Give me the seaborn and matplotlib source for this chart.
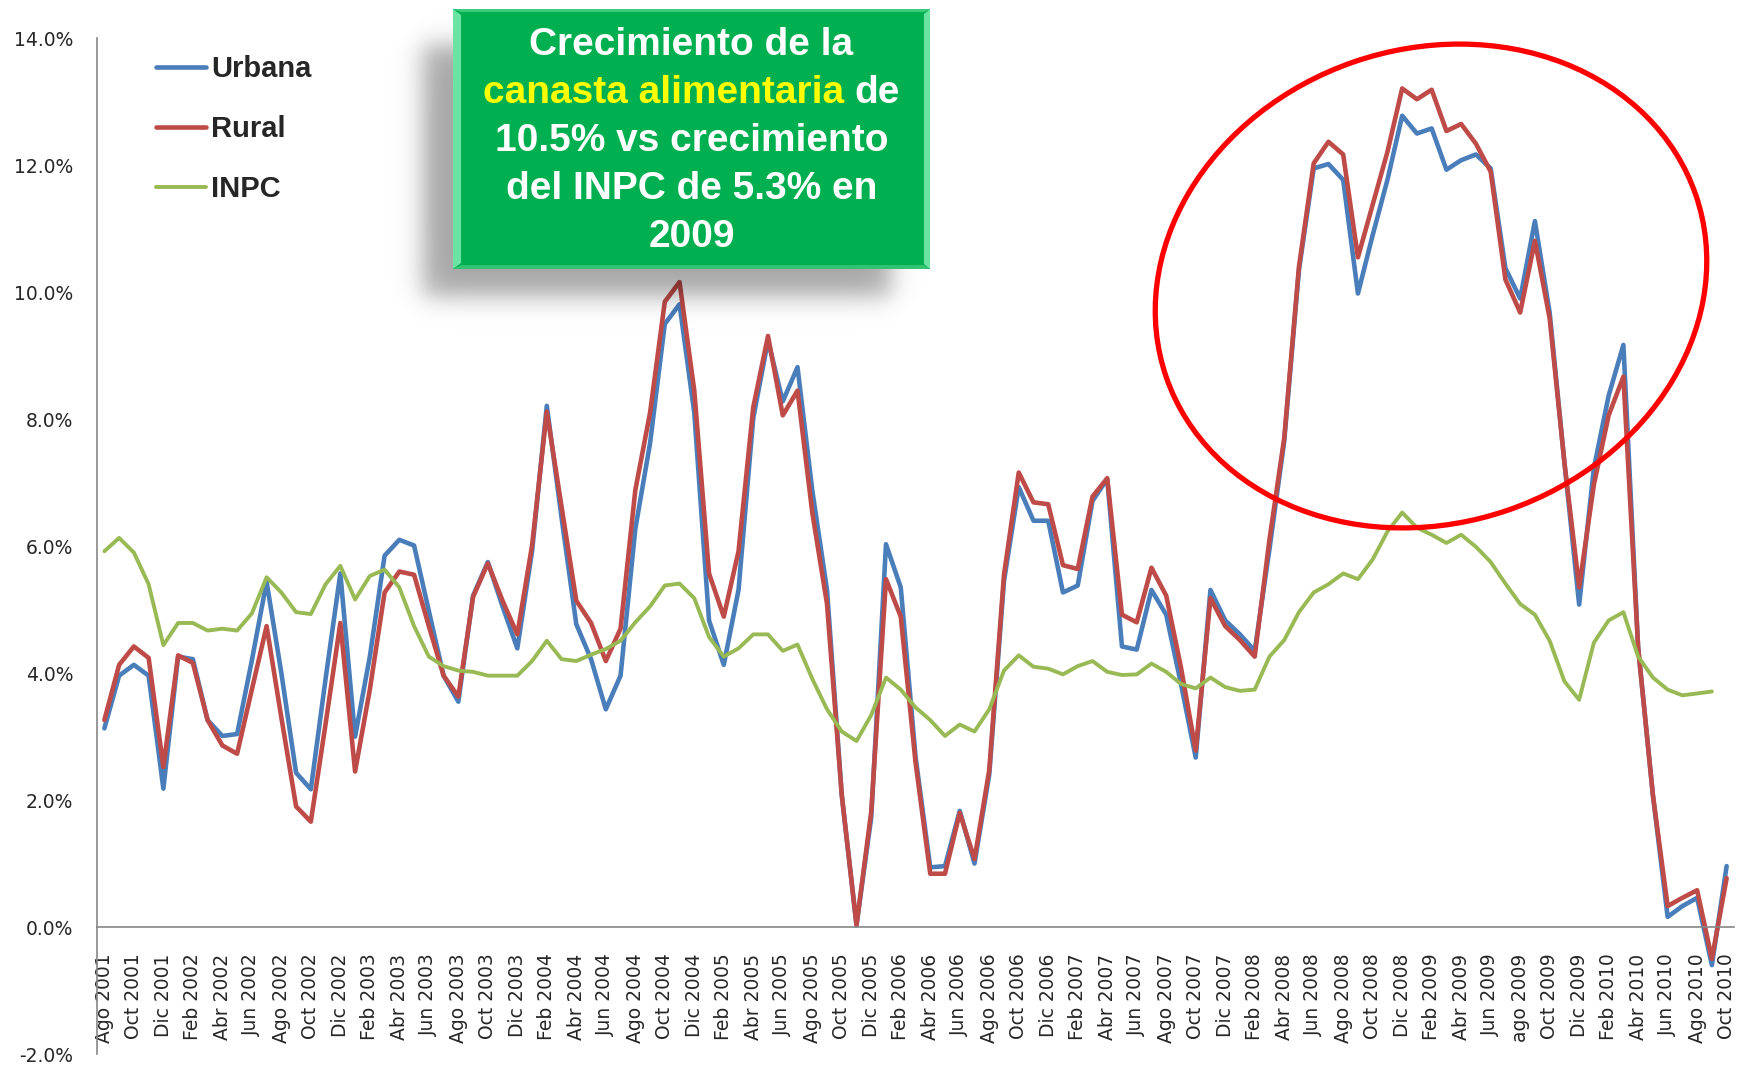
import numpy as np
import pandas as pd
import seaborn as sns
import matplotlib
matplotlib.use("Agg")
from matplotlib import pyplot as plt
from matplotlib.patches import Rectangle, Ellipse, Polygon
from matplotlib.ticker import FuncFormatter

# crecimiento anual (%) de la canasta alimentaria y del INPC, ago 2001 - oct 2010
urbana = [
    3.13, 3.96, 4.13, 3.96, 2.18,
    4.26, 4.22, 3.26, 3.01, 3.04, 4.20, 5.44, 4.00, 2.43, 2.17, 3.91, 5.57,
    3.00, 4.26, 5.85, 6.10, 6.01, 4.98, 3.96, 3.55, 5.22, 5.75, 5.05, 4.39,
    5.92, 8.21, 6.45, 4.77, 4.22, 3.43, 3.96, 6.27, 7.62, 9.50, 9.81, 8.10,
    4.83, 4.13, 5.31, 8.02, 9.24, 8.28, 8.82, 6.88, 5.31, 2.08, 0.03, 1.73,
    6.03, 5.35, 2.69, 0.94, 0.96, 1.83, 1.00, 2.40, 5.45, 6.93, 6.40, 6.40,
    5.27, 5.38, 6.71, 7.06, 4.42, 4.37, 5.31, 4.92, 3.83, 2.67, 5.31, 4.83,
    4.61, 4.35, 5.95, 7.65, 10.35, 11.95, 12.02, 11.77, 9.98, 10.90, 11.77, 12.78,
    12.50, 12.58, 11.93, 12.08, 12.17, 11.95, 10.38, 9.90, 11.12, 9.68, 7.32, 5.08,
    7.23, 8.37, 9.17, 4.40, 2.08, 0.16, 0.33, 0.46, -0.60, 0.96,
]
rural = [
    3.26, 4.13, 4.42, 4.24, 2.52,
    4.28, 4.16, 3.26, 2.86, 2.73, 3.74, 4.74, 3.30, 1.90, 1.66, 3.20, 4.79,
    2.45, 3.74, 5.27, 5.60, 5.55, 4.74, 3.96, 3.63, 5.20, 5.73, 5.14, 4.61,
    6.01, 8.12, 6.62, 5.14, 4.79, 4.19, 4.70, 6.88, 8.10, 9.85, 10.16, 8.45,
    5.57, 4.89, 5.92, 8.19, 9.31, 8.06, 8.45, 6.53, 5.09, 2.08, 0.03, 1.82,
    5.48, 4.89, 2.60, 0.84, 0.84, 1.80, 1.07, 2.47, 5.55, 7.16, 6.69, 6.66,
    5.70, 5.64, 6.78, 7.07, 4.92, 4.80, 5.66, 5.22, 4.09, 2.78, 5.18, 4.74,
    4.52, 4.26, 6.10, 7.70, 10.40, 12.03, 12.37, 12.17, 10.55, 11.38, 12.21, 13.21,
    13.04, 13.19, 12.54, 12.65, 12.34, 11.90, 10.20, 9.68, 10.81, 9.59, 7.32, 5.35,
    6.97, 8.06, 8.67, 4.40, 2.08, 0.33, 0.46, 0.58, -0.50, 0.77,
]
inpc = [
    5.92, 6.13, 5.90, 5.40, 4.44,
    4.79, 4.79, 4.67, 4.70, 4.67, 4.94, 5.51, 5.27, 4.96, 4.93, 5.40, 5.69,
    5.16, 5.53, 5.63, 5.35, 4.74, 4.26, 4.11, 4.04, 4.02, 3.96, 3.96, 3.96,
    4.19, 4.51, 4.22, 4.19, 4.29, 4.38, 4.51, 4.80, 5.05, 5.38, 5.41, 5.18,
    4.57, 4.26, 4.39, 4.61, 4.61, 4.35, 4.45, 3.91, 3.43, 3.08, 2.93, 3.34,
    3.93, 3.74, 3.46, 3.26, 3.01, 3.19, 3.08, 3.43, 4.04, 4.28, 4.10, 4.07,
    3.98, 4.11, 4.19, 4.02, 3.97, 3.98, 4.15, 4.02, 3.83, 3.76, 3.93, 3.78,
    3.72, 3.74, 4.26, 4.52, 4.96, 5.27, 5.40, 5.57, 5.48, 5.79, 6.23, 6.53,
    6.29, 6.18, 6.05, 6.18, 5.99, 5.75, 5.41, 5.09, 4.92, 4.51, 3.87, 3.58,
    4.48, 4.83, 4.96, 4.26, 3.93, 3.74, 3.65, 3.68, 3.71, np.nan,
]

etiquetas = [
    'Ago 2001', 'Oct 2001', 'Dic 2001',
    'Feb 2002', 'Abr 2002', 'Jun 2002', 'Ago 2002', 'Oct 2002', 'Dic 2002',
    'Feb 2003', 'Abr 2003', 'Jun 2003', 'Ago 2003', 'Oct 2003', 'Dic 2003',
    'Feb 2004', 'Abr 2004', 'Jun 2004', 'Ago 2004', 'Oct 2004', 'Dic 2004',
    'Feb 2005', 'Abr 2005', 'Jun 2005', 'Ago 2005', 'Oct 2005', 'Dic 2005',
    'Feb 2006', 'Abr 2006', 'Jun 2006', 'Ago 2006', 'Oct 2006', 'Dic 2006',
    'Feb 2007', 'Abr 2007', 'Jun 2007', 'Ago 2007', 'Oct 2007', 'Dic 2007',
    'Feb 2008', 'Abr 2008', 'Jun 2008', 'Ago 2008', 'Oct 2008', 'Dic 2008',
    'Feb 2009', 'Abr 2009', 'Jun 2009', 'ago 2009', 'Oct 2009', 'Dic 2009',
    'Feb 2010', 'Abr 2010', 'Jun 2010', 'Ago 2010', 'Oct 2010',
]

fechas = pd.date_range('2001-08-01', periods=len(urbana), freq='MS')
df = pd.DataFrame({'pos': np.arange(len(fechas)), 'Urbana': urbana,
                   'Rural': rural, 'INPC': inpc}, index=fechas)

sns.set_style('white')
plt.rcParams['font.family'] = ['DejaVu Sans']

W, H = 1744, 1067
fig = plt.figure(figsize=(W / 100, H / 100), dpi=100)
ax = fig.add_axes([97 / W, 1 - 1054 / H, (1734 - 97) / W, (1054 - 38.3) / H])

sns.lineplot(data=df, x='pos', y='Urbana', ax=ax, color='#4A7EBB', lw=3.3,
             label='Urbana', solid_joinstyle='round')
sns.lineplot(data=df, x='pos', y='Rural', ax=ax, color='#BE4B48', lw=3.3,
             label='Rural', solid_joinstyle='round')
sns.lineplot(data=df, x='pos', y='INPC', ax=ax, color='#98B954', lw=2.8,
             label='INPC', solid_joinstyle='round')

gris = '#868686'
ax.set_xlim(-0.5, len(fechas) - 0.5)
ax.set_ylim(-2, 14)
ax.set_xlabel('')
ax.set_ylabel('')
ax.spines['top'].set_visible(False)
ax.spines['right'].set_visible(False)
ax.spines['bottom'].set_position(('data', 0))
for s in ('left', 'bottom'):
    ax.spines[s].set_color(gris)
    ax.spines[s].set_linewidth(1.2)

ax.set_xticks(np.arange(0, len(fechas), 2), labels=etiquetas, rotation=90)
ax.set_xticks(np.arange(1.5, len(fechas) - 1, 2), minor=True)
ax.tick_params(axis='x', which='major', length=0, pad=19, labelsize=13.5)
ax.tick_params(axis='x', which='minor', length=4.5, width=1, color=gris,
               direction='out')
ax.set_yticks(np.arange(-2, 15, 2))
ax.yaxis.set_major_formatter(FuncFormatter(lambda v, _: f'{v:.1f}%'))
ax.tick_params(axis='y', length=5, width=1, color=gris, pad=12,
               labelsize=13.5)

leg = ax.legend(loc='upper left', bbox_to_anchor=(156 / W, 1 - 55 / H),
                bbox_transform=fig.transFigure, frameon=False,
                prop={'family': 'Liberation Sans', 'weight': 'bold', 'size': 21},
                handlelength=1.7, handletextpad=0.2, labelspacing=1.1,
                borderpad=0, borderaxespad=0)
for h in leg.get_lines():
    h.set_solid_capstyle('round')

# capa de anotaciones en pixeles
ov = fig.add_axes([0, 0, 1, 1], zorder=5)
ov.patch.set_alpha(0)
ov.axis('off')

# sombra difusa del recuadro
sx = np.arange(370, 950) + 0.5
sy = np.arange(0, 350) + 0.5
fx = 0.5 * (np.tanh((sx - 423) / 15) - np.tanh((sx - 890) / 15))
fy = 0.5 * (np.tanh((sy - 45) / 15) - np.tanh((sy - 296) / 15))
sombra = np.zeros((len(sy), len(sx), 4))
sombra[..., 3] = 0.35 * np.outer(fy, fx)
ov.imshow(sombra, extent=(370, 950, 350, 0), aspect='auto',
          interpolation='bilinear', zorder=1)

# recuadro verde con bisel
x0, x1, y0, y1 = 453, 930, 9, 269
ov.add_patch(Rectangle((x0, y0), x1 - x0, y1 - y0, facecolor='#00B050',
                       edgecolor='none', zorder=2))
ov.add_patch(Polygon([(x0, y0), (x0 + 8, y0 + 6), (x0 + 8, y1 - 6), (x0, y1)],
                     facecolor='#6BE3A2', edgecolor='none', zorder=3))
ov.add_patch(Polygon([(x1, y0), (x1 - 6, y0 + 5), (x1 - 6, y1 - 5), (x1, y1)],
                     facecolor='#6BE3A2', edgecolor='none', zorder=3))
ov.add_patch(Polygon([(x0, y0), (x1, y0), (x1 - 6, y0 + 3), (x0 + 8, y0 + 3)],
                     facecolor='#3DCB7D', edgecolor='none', zorder=3))
ov.add_patch(Polygon([(x0, y1), (x1, y1), (x1 - 6, y1 - 4), (x0 + 8, y1 - 4)],
                     facecolor='#33C272', edgecolor='none', zorder=3))

caja = {'family': 'Liberation Sans', 'weight': 'bold', 'size': 28}
xc = (x0 + x1) / 2
paso = 48.1
ov.set_xlim(0, W)
ov.set_ylim(H, 0)

ov.text(xc, 55, 'Crecimiento de la', color='white', ha='center',
        va='baseline', fontdict=caja, zorder=4)
# segunda linea: parte en amarillo, medida sobre la linea completa
guia = ov.text(xc, 55 + paso, 'canasta alimentaria de', ha='center',
               va='baseline', fontdict=caja, zorder=4)
rend = fig.canvas.get_renderer()
bb = guia.get_window_extent(renderer=rend)
guia.remove()
inv = ov.transData.inverted()
xa = inv.transform((bb.x0, 0))[0]
xb = inv.transform((bb.x1, 0))[0]
ov.text(xa, 55 + paso, 'canasta alimentaria', color='#FFFF00', ha='left',
        va='baseline', fontdict=caja, zorder=4)
ov.text(xb, 55 + paso, 'de', color='white', ha='right',
        va='baseline', fontdict=caja, zorder=4)
for k, t in enumerate(['10.5% vs crecimiento', 'del INPC de 5.3% en', '2009']):
    ov.text(xc, 55 + paso * (k + 2), t, color='white', ha='center',
            va='baseline', fontdict=caja, zorder=4)

# elipse roja que resalta 2008-2009
ov.add_patch(Ellipse((1431, 286), 560, 474, angle=-19, fill=False,
                     edgecolor='#FF0000', lw=3.8, zorder=6))

fig.savefig('out.png', dpi=100)
